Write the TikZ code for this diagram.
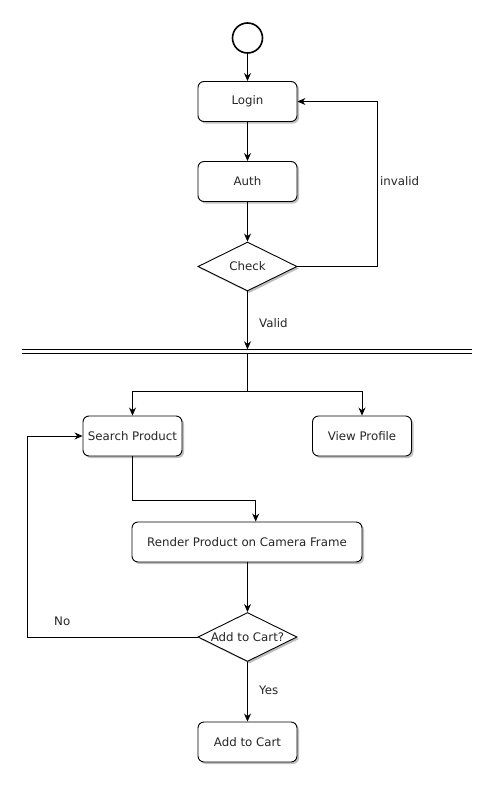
\documentclass[tikz,border=0pt]{standalone}
\usepackage{fontspec}
\setmainfont{DejaVu Sans}
\usetikzlibrary{shapes.geometric,arrows.meta,shadows}
\begin{document}
\begin{tikzpicture}[x=1pt,y=-1pt,
  every node/.style={font=\fontsize{11.8}{14}\selectfont,text=black!85},
  shadowed/.style={drop shadow={shadow xshift=2pt,shadow yshift=-2pt,fill=black,opacity=0.25}},
  act/.style={draw,line width=0.9pt,rounded corners=6pt,fill=white,shadowed,minimum width=99pt,minimum height=40pt,inner sep=0pt},
  dec/.style={draw,line width=0.9pt,diamond,aspect=2,fill=white,shadowed,minimum width=99pt,minimum height=49pt,inner sep=0pt},
  arr/.style={line width=0.9pt,-{Stealth[length=8pt,width=7pt]}},
  ln/.style={line width=0.9pt},
  lbl/.style={inner sep=0pt,anchor=west}
]
\useasboundingbox[fill=white] (0,0) rectangle (493,785);
\node[draw,circle,line width=1.6pt,minimum size=30pt,inner sep=0pt] (start) at (247.5,38) {};
\node[act] (login) at (247.5,101.5) {Login};
\node[act] (auth) at (247.5,181.5) {Auth};
\node[dec] (check) at (247.5,266.5) {Check};
\coordinate (barTop) at (247.5,349.3);
\coordinate (barBot) at (247.5,353.3);
\draw[ln] (22,349.3) -- (472,349.3);
\draw[ln] (22,353.3) -- (472,353.3);
\node[act] (search) at (132.5,436) {Search Product};
\node[act] (profile) at (362,436) {View Profile};
\node[act,minimum width=230pt] (render) at (247,542) {Render Product on Camera Frame};
\node[dec] (cart) at (247.5,637) {Add to Cart?};
\node[act] (add) at (247.5,742) {Add to Cart};

\draw[arr] (start) -- (login);
\draw[arr] (login) -- (auth);
\draw[arr] (auth) -- (check);
\draw[arr] (check.east) -- (377,266.5) -- (377,101.5) -- (login.east);
\node[lbl] (invalid) at (380,181.5) {invalid};
\draw[arr] (check.south) -- (barTop);
\node[lbl] (valid) at (259,323) {Valid};
\coordinate (split) at (247.5,391);
\draw[ln] (barBot) -- (split);
\draw[arr] (split) -| (search.north);
\draw[arr] (split) -| (profile.north);
\draw[arr] (search.south) |- (255.7,500.7) -- (255.7,521.5);
\draw[arr] (render.south -| cart.north) -- (cart.north);
\draw[arr] (cart.west) -- (27,637) -- (27,436) -- (search.west);
\node[lbl] (no) at (54,621) {No};
\draw[arr] (cart.south) -- (add.north);
\node[lbl] (yes) at (259,690) {Yes};
\end{tikzpicture}
\end{document}
